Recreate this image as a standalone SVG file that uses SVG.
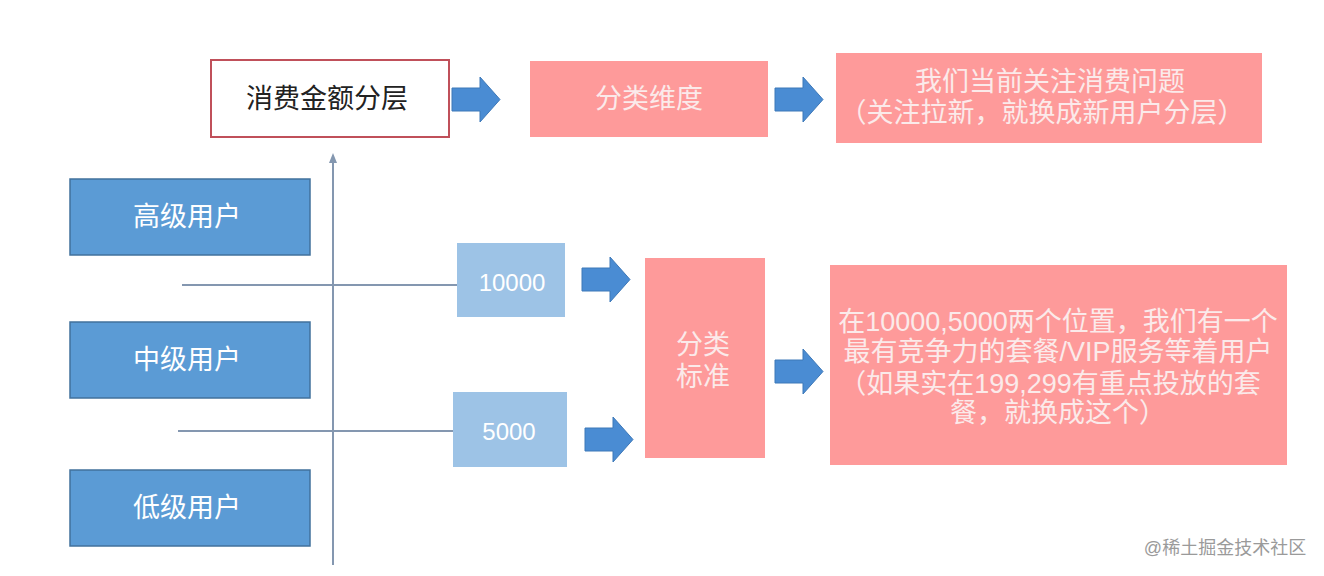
<svg xmlns="http://www.w3.org/2000/svg" width="1324" height="576" viewBox="0 0 1324 576">
<style>
text{font-family:"Liberation Sans","Noto Sans CJK SC",sans-serif;text-anchor:middle;dominant-baseline:central}
.pink{fill:#fe9a9a}
.pt{fill:#fbeaea;font-size:27px}
.blue{fill:#5b9bd5;stroke:#41719c;stroke-width:1.5}
.bt{fill:#ffffff;font-size:27px}
.lb{fill:#9dc3e6}
.lt{fill:#ffffff;font-size:24px}
.axis{stroke:#8497b0;stroke-width:2;fill:none}
.arr{fill:#4a8cd3;stroke:#3d78b8;stroke-width:1}
</style>
<defs>
<path id="barrow" d="M0,11 H28 V0 L48,22.5 L28,45 V34 H0 Z"/>
<marker id="ah" viewBox="0 0 10 10" refX="5" refY="5" markerWidth="5" markerHeight="5" orient="auto">
<path d="M0,1 L10,5 L0,9 Z" fill="#8497b0"/>
</marker>
</defs>
<rect width="1324" height="576" fill="#ffffff"/>
<g id="connectors">
<line class="axis" x1="333" y1="565" x2="333" y2="158" marker-end="url(#ah)"/>
<line class="axis" x1="182" y1="285" x2="478" y2="285" stroke-width="1.5"/>
<line class="axis" x1="178" y1="431" x2="478" y2="431" stroke-width="1.5"/>
<use href="#barrow" class="arr" x="452" y="77"/>
<use href="#barrow" class="arr" x="775" y="77"/>
<use href="#barrow" class="arr" x="582" y="257"/>
<use href="#barrow" class="arr" x="585" y="417"/>
<use href="#barrow" class="arr" x="775" y="349"/>
</g>
<g id="n-title">
<rect x="211" y="60" width="238" height="77" fill="#ffffff" stroke="#c0505a" stroke-width="2"/>
<text x="327" y="99" font-size="27" fill="#222">消费金额分层</text>
</g>
<g id="n-dim">
<rect class="pink" x="530" y="61" width="238" height="76"/>
<text class="pt" x="649" y="99">分类维度</text>
</g>
<g id="n-focus">
<rect class="pink" x="836" y="53" width="426" height="90"/>
<text class="pt" x="1050" y="82">我们当前关注消费问题</text>
<text class="pt" x="1042" y="113">（关注拉新，就换成新用户分层）</text>
</g>
<g id="n-high">
<rect class="blue" x="70" y="179" width="240" height="76"/>
<text class="bt" x="187" y="217">高级用户</text>
</g>
<g id="n-mid">
<rect class="blue" x="70" y="322" width="240" height="76"/>
<text class="bt" x="187" y="360">中级用户</text>
</g>
<g id="n-low">
<rect class="blue" x="70" y="470" width="240" height="76"/>
<text class="bt" x="187" y="508">低级用户</text>
</g>
<g id="n-10000">
<rect class="lb" x="457" y="243" width="108" height="74"/>
<text class="lt" x="512" y="282">10000</text>
</g>
<g id="n-5000">
<rect class="lb" x="453" y="392" width="114" height="75"/>
<text class="lt" x="509" y="431">5000</text>
</g>
<g id="n-std">
<rect class="pink" x="645" y="258" width="120" height="200"/>
<text class="pt" x="703" y="345">分类</text>
<text class="pt" x="703" y="377">标准</text>
</g>
<g id="n-desc">
<rect class="pink" x="830" y="265" width="457" height="200"/>
<text class="pt" x="1058" y="322" font-size="25">在10000,5000两个位置，我们有一个</text>
<text class="pt" x="1058" y="352" font-size="25">最有竞争力的套餐/VIP服务等着用户</text>
<text class="pt" x="1050" y="384" font-size="25">（如果实在199,299有重点投放的套</text>
<text class="pt" x="1058" y="413" font-size="25">餐，就换成这个）</text>
</g>
<text x="1225" y="548" font-size="18" fill="#9a9a9a">@稀土掘金技术社区</text>
</svg>
